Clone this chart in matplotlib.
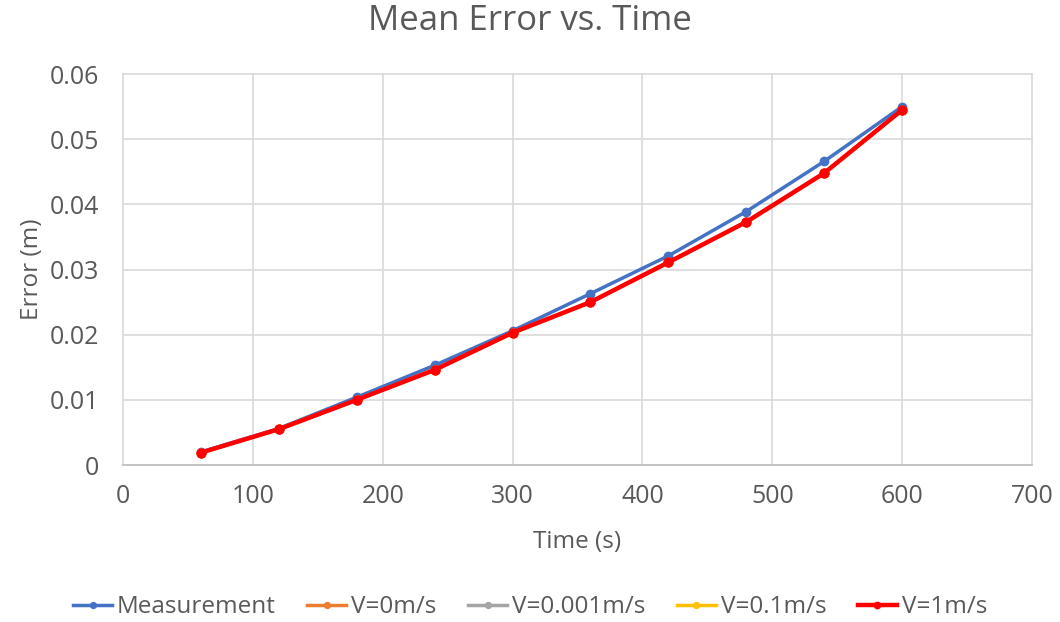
import matplotlib.pyplot as plt

plt.rcParams['font.family'] = ['Open Sans', 'DejaVu Sans']

# data
time_s = [60, 120, 180, 240, 300, 360, 420, 480, 540, 600]
measurement = [0.0020, 0.0056, 0.0104, 0.0153, 0.0206, 0.0263, 0.0321, 0.0389, 0.0466, 0.0550]
v_0 = [0.0019, 0.0055, 0.0100, 0.0146, 0.0203, 0.0250, 0.0311, 0.0373, 0.0448, 0.0545]
v_0001 = [0.0019, 0.0055, 0.0100, 0.0146, 0.0203, 0.0250, 0.0311, 0.0373, 0.0448, 0.0545]
v_01 = [0.0019, 0.0055, 0.0100, 0.0146, 0.0203, 0.0250, 0.0311, 0.0373, 0.0448, 0.0545]
v_1 = [0.0019, 0.0055, 0.0100, 0.0146, 0.0203, 0.0250, 0.0311, 0.0373, 0.0448, 0.0545]

txt = '#595959'
fig = plt.figure(figsize=(10.6, 6.22), dpi=100)
ax = fig.add_axes([0.116, 0.2524, 0.8576, 0.6286])

ax.plot(time_s, measurement, color='#4472c4', lw=2.5, marker='o', ms=6, label='Measurement')
ax.plot(time_s, v_0, color='#ed7d31', lw=2.5, marker='o', ms=6, label='V=0m/s')
ax.plot(time_s, v_0001, color='#a5a5a5', lw=2.5, marker='o', ms=6, label='V=0.001m/s')
ax.plot(time_s, v_01, color='#ffc000', lw=2.5, marker='o', ms=6, label='V=0.1m/s')
ax.plot(time_s, v_1, color='#ff0000', lw=3.2, marker='o', ms=6.5, label='V=1m/s')

ax.set_xlim(0, 700)
ax.set_ylim(0, 0.06)
ax.set_xticks(range(0, 701, 100))
ax.set_yticks([0, 0.01, 0.02, 0.03, 0.04, 0.05, 0.06])
ax.set_yticklabels(['0', '0.01', '0.02', '0.03', '0.04', '0.05', '0.06'])
ax.grid(True, color='#d9d9d9', lw=1.2, clip_on=False)
ax.set_axisbelow(True)
for s in ['top', 'right', 'left']:
    ax.spines[s].set_visible(False)
ax.spines['bottom'].set_color('#bfbfbf')
ax.spines['bottom'].set_linewidth(1.2)
ax.tick_params(axis='y', length=0, labelsize=18, labelcolor=txt, pad=17)
ax.tick_params(axis='x', length=0, labelsize=18, labelcolor=txt, pad=14)

fig.text(0.5, 0.966, 'Mean Error vs. Time', fontsize=25, color=txt, ha='center', va='center')
ax.set_xlabel('Time (s)', fontsize=17.5, color=txt, labelpad=15)
ax.set_ylabel('Error (m)', fontsize=17.5, color=txt, labelpad=4)

fig.legend(loc='center', bbox_to_anchor=(0.5, 0.024), ncol=5, frameon=False,
           fontsize=17.5, labelcolor=txt, handlelength=1.6, handletextpad=0.2,
           columnspacing=1.3, markerscale=0.7)

fig.savefig('out.png', dpi=100)
